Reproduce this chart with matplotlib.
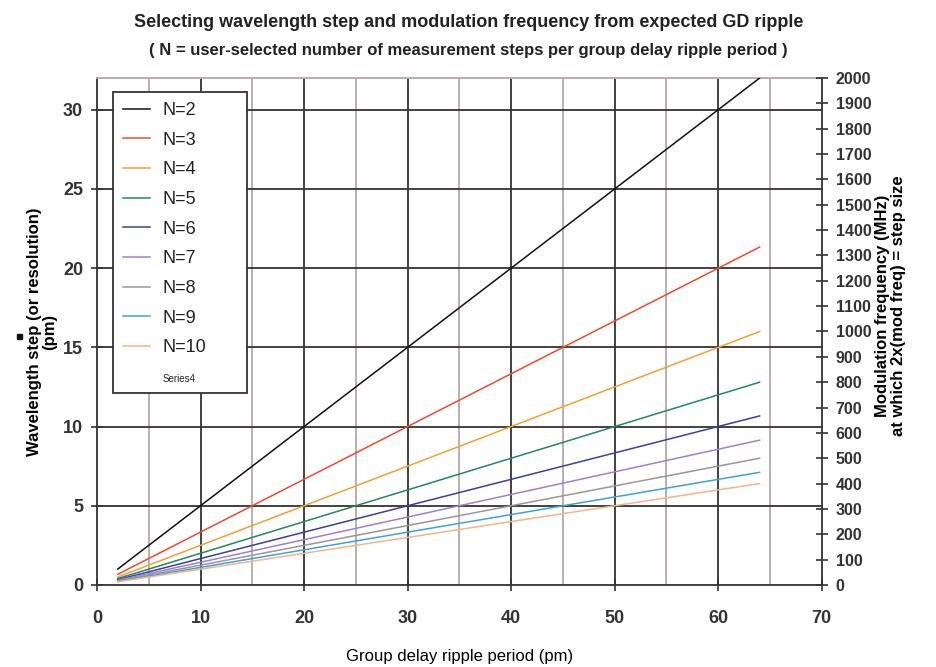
import matplotlib
matplotlib.use("Agg")
import matplotlib.pyplot as plt
from matplotlib.patches import Rectangle

# data: wavelength step (pm) vs group delay ripple period (pm), one line per N
period = [2, 64]
step_n2 = [1.0, 32.0]
step_n3 = [0.67, 21.33]
step_n4 = [0.5, 16.0]
step_n5 = [0.4, 12.8]
step_n6 = [0.33, 10.67]
step_n7 = [0.29, 9.14]
step_n8 = [0.25, 8.0]
step_n9 = [0.22, 7.11]
step_n10 = [0.2, 6.4]

labels = ['N=2', 'N=3', 'N=4', 'N=5', 'N=6', 'N=7', 'N=8', 'N=9', 'N=10']
series = [step_n2, step_n3, step_n4, step_n5, step_n6, step_n7, step_n8, step_n9, step_n10]
colors = ['#111111', '#ee4a2c', '#f5a030', '#1f8a5c', '#3a3fa6',
          '#9d80d0', '#a09494', '#3ca2e0', '#f5b488']

left_ticks = [0, 5, 10, 15, 20, 25, 30]
right_ticks = list(range(0, 2001, 100))
x_ticks = [0, 10, 20, 30, 40, 50, 60, 70]

plt.rcParams['font.family'] = ['Liberation Sans', 'DejaVu Sans']

dark = '#333333'
grey = '#b5a8a8'

fig = plt.figure(figsize=(9.37, 6.67), dpi=100)
ax = fig.add_axes([0.1035, 0.123, 0.7735, 0.760])

ax.set_xlim(0, 70)
ax.set_ylim(0, 32)

# grid lines
for gx in [5, 15, 25, 35, 45, 55, 65]:
    ax.axvline(gx, color=grey, lw=1.3, zorder=1)
for gx in [10, 20, 30, 40, 50, 60]:
    ax.axvline(gx, color=dark, lw=1.3, zorder=1)
for gy in [5, 10, 15, 20, 25, 30]:
    ax.axhline(gy, color=dark, lw=1.3, zorder=1)

for lab, ys, c in zip(labels, series, colors):
    ax.plot(period, ys, color=c, lw=1.1, label=lab, zorder=3)
ax.plot([], [], color='none', label='Series4')

ax.set_xticks(x_ticks)
ax.set_yticks(left_ticks)
ax.tick_params(axis='both', direction='inout', length=8, width=1.2,
               labelsize=13, colors=dark)
ax.tick_params(axis='x', pad=14)
ax.tick_params(axis='y', pad=6)
for lbl in ax.get_xticklabels() + ax.get_yticklabels():
    lbl.set_fontweight('bold')

for s in ['left', 'bottom']:
    ax.spines[s].set_color(dark)
    ax.spines[s].set_linewidth(1.3)
ax.spines['top'].set_color(grey)
ax.spines['top'].set_linewidth(1.3)
ax.spines['right'].set_visible(False)

ax2 = ax.twinx()
ax2.set_ylim(0, 2000)
ax2.set_yticks(right_ticks)
ax2.tick_params(axis='y', direction='inout', length=8, width=1.2,
                labelsize=11.5, colors=dark, pad=6)
for lbl in ax2.get_yticklabels():
    lbl.set_fontweight('bold')
ax2.spines['right'].set_color(dark)
ax2.spines['right'].set_linewidth(1.3)
for s in ['left', 'top', 'bottom']:
    ax2.spines[s].set_visible(False)

leg = ax.legend(loc='upper left', bbox_to_anchor=(0.022, 0.972, 0.185, 0.0),
                mode='expand', fontsize=13, labelspacing=0.7, handlelength=1.5,
                handletextpad=0.7, borderpad=0.55, fancybox=False,
                framealpha=1, edgecolor=dark, borderaxespad=0)
leg.get_frame().set_linewidth(1.3)
leg.get_texts()[-1].set_fontsize(7)
for t in leg.get_texts():
    t.set_color('#222222')

ax.set_xlabel('Group delay ripple period (pm)', fontsize=12, labelpad=16)
ax.set_ylabel('Wavelength step (or resolution)\n(pm)', fontsize=12,
              fontweight='bold', linespacing=1.05)
ax.yaxis.set_label_coords(-0.055, 0.5)
ax2.set_ylabel('Modulation frequency (MHz)\nat which 2x(mod freq) = step size',
               fontsize=12, fontweight='bold', linespacing=1.15)
ax2.yaxis.set_label_coords(1.073, 0.55)

fig.text(0.5, 0.966, 'Selecting wavelength step and modulation frequency from expected GD ripple',
         ha='center', va='center', fontsize=13, fontweight='bold', color='#222222')
fig.text(0.5, 0.925, '( N = user-selected number of measurement steps per group delay ripple period )',
         ha='center', va='center', fontsize=12, fontweight='bold', color='#222222')

# small stray mark left of the y label
fig.patches.append(Rectangle((0.018, 0.492), 0.005, 0.008, transform=fig.transFigure,
                             color='#111111', figure=fig))

fig.savefig('out.png', dpi=100)
